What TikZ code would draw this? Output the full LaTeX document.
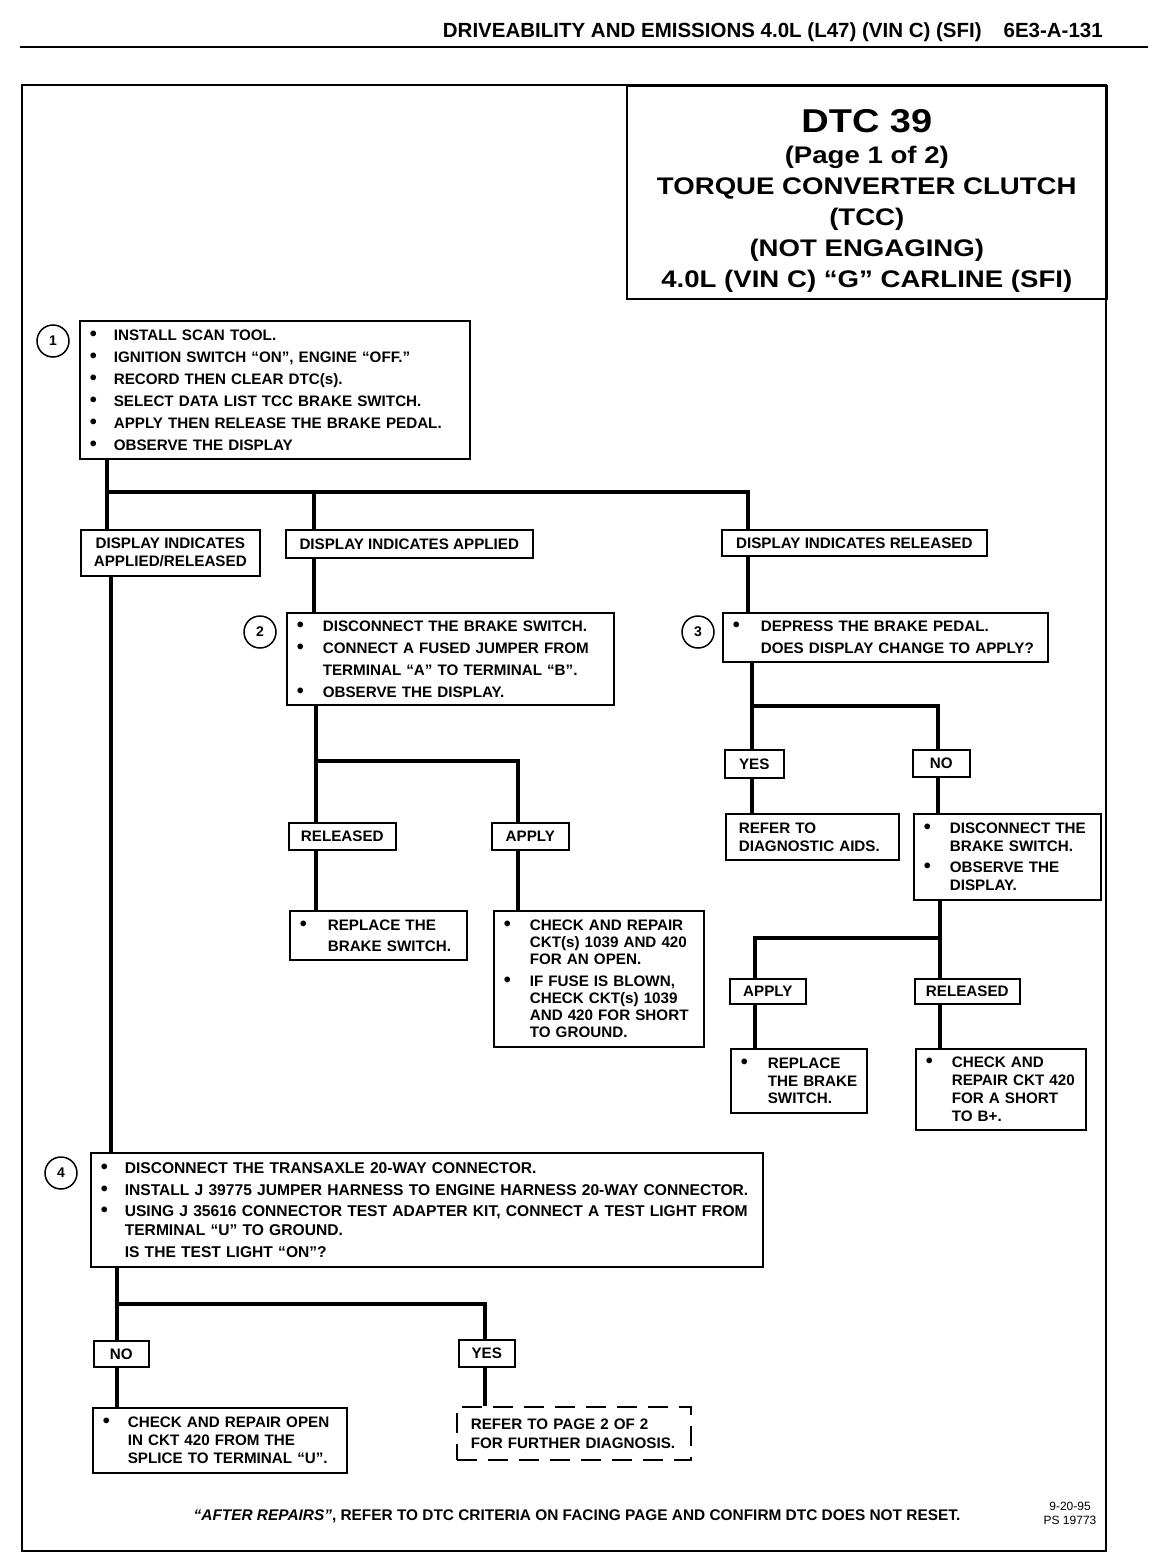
\documentclass[tikz,border=0pt]{standalone}
\usepackage{fontspec}
\setmainfont{Liberation Sans}
\newfontfamily\titlefont{Liberation Sans}[FakeStretch=1.15]
\usetikzlibrary{calc}
\newcommand\bodyf[1]{\bfseries\fontsize{15.2}{#1}\selectfont}
\newcommand\bxl[2][26pt]{\mbox{\makebox[#1][l]{\fontsize{20}{0}\selectfont\char"2022}#2}}
\newcommand\nxl[2][26pt]{\mbox{\hspace*{#1}#2}}
\tikzset{
  box/.style={draw, line width=1.6pt, anchor=north west, inner xsep=10pt, inner ysep=0pt, align=left},
  lab/.style={draw, line width=1.6pt, anchor=north west, inner sep=0pt, align=center, font=\bodyf{18}},
  conn/.style={line width=3.4pt},
  stepc/.style={circle, draw, line width=1.5pt, minimum size=32pt, inner sep=0pt, font=\bfseries\fontsize{14}{14}\selectfont},
}
\newcommand\bx[7][]{%
  \pgfmathsetmacro\bxW{#5-#3}\pgfmathsetmacro\bxH{#6-#4}\pgfmathsetmacro\bxT{#5-#3-20}%
  \node[box, minimum width=\bxW pt, minimum height=\bxH pt, text width=\bxT pt, #1] (#2) at (#3,#4) {#7};}
\newcommand\lb[7][]{%
  \pgfmathsetmacro\bxW{#5-#3}\pgfmathsetmacro\bxH{#6-#4}%
  \node[lab, minimum width=\bxW pt, minimum height=\bxH pt, #1] (#2) at (#3,#4) {#7};}
\begin{document}
\begin{tikzpicture}[x=1pt,y=-1pt]
\fill[white] (0,0) rectangle (1168,1568);
\useasboundingbox (0,0) rectangle (1168,1568);
% header
\node[anchor=base east, inner sep=0pt, font=\bfseries\fontsize{20.5}{24}\selectfont] (hdr) at (1103,38) {DRIVEABILITY AND EMISSIONS 4.0L (L47) (VIN C) (SFI)\hspace{22pt}6E3-A-131};
\draw[line width=2.4pt] (20,47) -- (1148,47);
% frame
\draw[line width=1.8pt] (22,85) rectangle (1106,1551);
% title
\node[draw, line width=1.6pt, anchor=north west, minimum width=480pt, minimum height=213pt, inner sep=0pt, align=center,
      font=\titlefont\bfseries\fontsize{24}{31}\selectfont] (title) at (626,85)
  {\rule{0pt}{41pt}{\fontsize{33}{31}\selectfont DTC 39}\\ (Page 1 of 2)\\ TORQUE CONVERTER CLUTCH\\ (TCC)\\ (NOT ENGAGING)\\ 4.0L (VIN C) “G” CARLINE (SFI)};
% step 1
\node[stepc] (s1) at (53,341) {1};
\bx[font=\bodyf{22}]{b1}{79}{320}{469}{458}{\bxl[24pt]{INSTALL SCAN TOOL.}\\ \bxl[24pt]{IGNITION SWITCH “ON”, ENGINE “OFF.”}\\ \bxl[24pt]{RECORD THEN CLEAR DTC(s).}\\ \bxl[24pt]{SELECT DATA LIST TCC BRAKE SWITCH.}\\ \bxl[24pt]{APPLY THEN RELEASE THE BRAKE PEDAL.}\\ \bxl[24pt]{OBSERVE THE DISPLAY}}
% first level labels
\lb{lAR}{80}{529}{259}{575}{DISPLAY INDICATES\\ APPLIED/RELEASED}
\lb{lA}{285}{529}{532}{557}{DISPLAY INDICATES APPLIED}
\lb{lR}{721}{529}{986}{555}{DISPLAY INDICATES RELEASED}
% step 2
\node[stepc] (s2) at (260,632) {2};
\bx[font=\bodyf{22}]{b2}{286}{612}{613}{704}{\bxl{DISCONNECT THE BRAKE SWITCH.}\\ \bxl{CONNECT A FUSED JUMPER FROM}\\ \nxl{TERMINAL “A” TO TERMINAL “B”.}\\ \bxl{OBSERVE THE DISPLAY.}}
\lb{lRel2}{288}{822}{395}{849}{RELEASED}
\lb{lApp2}{491}{822}{568}{849}{APPLY}
\bx[font=\bodyf{21}]{bRep1}{289}{910}{466}{959}{\bxl[28pt]{REPLACE THE}\\ \nxl[28pt]{BRAKE SWITCH.}}
\bx[font=\bodyf{17}]{bChk1}{493}{910}{703}{1046}{\bxl{CHECK AND REPAIR}\\ \nxl{CKT(s) 1039 AND 420}\\ \nxl{FOR AN OPEN.}\\[5.5pt] \bxl{IF FUSE IS BLOWN,}\\ \nxl{CHECK CKT(s) 1039}\\ \nxl{AND 420 FOR SHORT}\\ \nxl{TO GROUND.}}
% step 3
\node[stepc] (s3) at (698,632) {3};
\bx[font=\bodyf{22}]{b3}{722}{612}{1047}{661}{\bxl[28pt]{DEPRESS THE BRAKE PEDAL.}\\ \nxl[28pt]{DOES DISPLAY CHANGE TO APPLY?}}
\lb{lYes3}{724}{749}{783}{777}{YES}
\lb{lNo3}{912}{749}{969}{776}{NO}
\bx[font=\bodyf{18}]{bRef}{725}{813}{898}{859}{\nxl[3pt]{REFER TO}\\ \nxl[3pt]{DIAGNOSTIC AIDS.}}
\bx[font=\bodyf{17.5}]{bDisc}{913}{813}{1100}{899}{\bxl{DISCONNECT THE}\\ \nxl{BRAKE SWITCH.}\\[4pt] \bxl{OBSERVE THE}\\ \nxl{DISPLAY.}}
\lb{lApp3}{729}{978}{805}{1003}{APPLY}
\lb{lRel3}{914}{978}{1019}{1003}{RELEASED}
\bx[font=\bodyf{17.5}]{bRep2}{730}{1048}{866}{1112}{\bxl[27pt]{REPLACE}\\ \nxl[27pt]{THE BRAKE}\\ \nxl[27pt]{SWITCH.}}
\bx[font=\bodyf{17.7}]{bChk2}{915}{1048}{1085}{1129}{\bxl{CHECK AND}\\ \nxl{REPAIR CKT 420}\\ \nxl{FOR A SHORT}\\ \nxl{TO B+.}}
% step 4
\node[stepc] (s4) at (61,1173) {4};
\bx[font=\bfseries\fontsize{15.6}{19}\selectfont]{b4}{90}{1152}{762}{1266}{\bxl[24pt]{DISCONNECT THE TRANSAXLE 20-WAY CONNECTOR.}\\[3pt] \bxl[24pt]{INSTALL J 39775 JUMPER HARNESS TO ENGINE HARNESS 20-WAY CONNECTOR.}\\[2pt] \bxl[24pt]{USING J 35616 CONNECTOR TEST ADAPTER KIT, CONNECT A TEST LIGHT FROM}\\ \nxl[24pt]{TERMINAL “U” TO GROUND.}\\[3pt] \nxl[24pt]{IS THE TEST LIGHT “ON”?}}
\lb{lNo4}{93}{1340}{148}{1366}{NO}
\lb{lYes4}{458}{1339}{514}{1366}{YES}
\bx[font=\bodyf{18}]{bChk3}{92}{1407}{346}{1472}{\bxl[25pt]{CHECK AND REPAIR OPEN}\\ \nxl[25pt]{IN CKT 420 FROM THE}\\ \nxl[25pt]{SPLICE TO TERMINAL “U”.}}
\bx[font=\bodyf{19}, dash pattern=on 20pt off 11pt]{bRef2}{456}{1406}{690}{1459}{\nxl[4pt]{REFER TO PAGE 2 OF 2}\\ \nxl[4pt]{FOR FURTHER DIAGNOSIS.}}
% connectors
\coordinate (t1) at (107,492);
\coordinate (t2) at (314,492);
\coordinate (t3) at (748,492);
\coordinate (x1) at (111,0);
\draw[conn] (b1.south -| t1) -- (lAR.north -| t1);
\draw[conn] (t1) -- (t3) -- (lR.north -| t3);
\draw[conn] (t2) -- (lA.north -| t2);
\draw[conn] (lAR.south -| x1) -- (b4.north -| x1);
\draw[conn] (lA.south -| t2) -- (b2.north -| t2);
\coordinate (j2) at (316,761);
\coordinate (j2r) at (518,761);
\draw[conn] (b2.south -| j2) -- (lRel2.north -| j2);
\draw[conn] (j2) -- (j2r) -- (lApp2.north -| j2r);
\draw[conn] (lRel2.south -| j2) -- (bRep1.north -| j2);
\draw[conn] (lApp2.south -| j2r) -- (bChk1.north -| j2r);
\draw[conn] (lR.south -| t3) -- (b3.north -| t3);
\coordinate (j3) at (752,706);
\coordinate (j3r) at (938,706);
\draw[conn] (b3.south -| j3) -- (lYes3.north -| j3);
\draw[conn] (j3) -- (j3r) -- (lNo3.north -| j3r);
\draw[conn] (lYes3.south -| j3) -- (bRef.north -| j3);
\draw[conn] (lNo3.south -| j3r) -- (bDisc.north -| j3r);
\coordinate (j4) at (940,938);
\coordinate (j4l) at (755,938);
\draw[conn] (bDisc.south -| j4) -- (lRel3.north -| j4);
\draw[conn] (j4) -- (j4l) -- (lApp3.north -| j4l);
\draw[conn] (lApp3.south -| j4l) -- (bRep2.north -| j4l);
\draw[conn] (lRel3.south -| j4) -- (bChk2.north -| j4);
\coordinate (j5) at (117,1304);
\coordinate (j5r) at (485,1304);
\draw[conn] (b4.south -| j5) -- (lNo4.north -| j5);
\draw[conn] (j5) -- (j5r) -- (lYes4.north -| j5r);
\draw[conn] (lNo4.south -| j5) -- (bChk3.north -| j5);
\draw[conn] (lYes4.south -| j5r) -- (bRef2.north -| j5r);
% footer
\node[anchor=base, inner sep=0pt, font=\bfseries\fontsize{15.4}{18}\selectfont] (foot) at (577,1520) {\textit{“AFTER REPAIRS”}, REFER TO DTC CRITERIA ON FACING PAGE AND CONFIRM DTC DOES NOT RESET.};
\node[align=center, inner sep=0pt, font=\fontsize{12}{14}\selectfont] (date) at (1070,1513) {9-20-95\\ PS 19773};
\end{tikzpicture}
\end{document}
